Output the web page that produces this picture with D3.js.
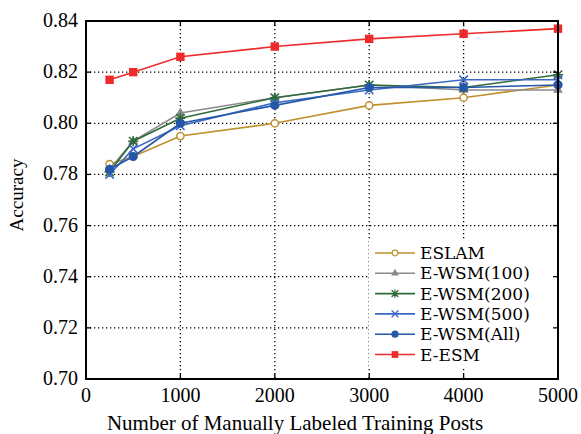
<!DOCTYPE html>
<html><head><meta charset="utf-8">
<script src="https://cdn.jsdelivr.net/npm/d3@7"></script>
<style>body{margin:0;background:#fff}svg{display:block}text{font-family:"Liberation Serif","Times New Roman",serif;fill:#000}</style>
</head><body>
<svg id="c" width="581" height="434"></svg>
<script>
const xs = [250, 500, 1000, 2000, 3000, 4000, 5000];
const eslam = [0.784, 0.787, 0.795, 0.800, 0.807, 0.810, 0.815];
const ewsm100 = [0.782, 0.793, 0.804, 0.810, 0.815, 0.813, 0.813];
const ewsm200 = [0.781, 0.793, 0.802, 0.810, 0.815, 0.814, 0.819];
const ewsm500 = [0.780, 0.790, 0.799, 0.808, 0.813, 0.817, 0.817];
const ewsmAll = [0.782, 0.787, 0.800, 0.807, 0.814, 0.814, 0.815];
const eesm = [0.817, 0.820, 0.826, 0.830, 0.833, 0.835, 0.837];
const seriesNames = ["ESLAM", "E-WSM(100)", "E-WSM(200)", "E-WSM(500)", "E-WSM(All)", "E-ESM"];
const xTicks = [0, 1000, 2000, 3000, 4000, 5000];
const yTicks = [0.70, 0.72, 0.74, 0.76, 0.78, 0.80, 0.82, 0.84];

const series = [
  {name: seriesNames[0], values: eslam, color: "#c0902f", marker: "ocircle"},
  {name: seriesNames[1], values: ewsm100, color: "#8a8a8a", marker: "triangle"},
  {name: seriesNames[2], values: ewsm200, color: "#2f6b3a", marker: "star"},
  {name: seriesNames[3], values: ewsm500, color: "#3a68c4", marker: "x"},
  {name: seriesNames[4], values: ewsmAll, color: "#2457a8", marker: "dot"},
  {name: seriesNames[5], values: eesm, color: "#ee2a2a", marker: "square"}
];

const svg = d3.select("#c");
const L = 86, R = 558, T = 21, B = 379;
const x = d3.scaleLinear().domain([0, 5000]).range([L, R]);
const y = d3.scaleLinear().domain([0.70, 0.84]).range([B, T]);

// grid
const grid = svg.append("g");
grid.selectAll(".gx").data(xTicks.slice(1, -1)).join("line")
  .attr("x1", d => x(d)).attr("x2", d => x(d)).attr("y1", T).attr("y2", B)
  .attr("stroke", "#000").attr("stroke-width", 1.3).attr("stroke-dasharray", "1.3,2.7");
grid.selectAll(".gy").data(yTicks.slice(1, -1)).join("line")
  .attr("y1", d => y(d)).attr("y2", d => y(d)).attr("x1", L).attr("x2", R)
  .attr("stroke", "#000").attr("stroke-width", 1.3).attr("stroke-dasharray", "1.3,2.7");

function drawMarker(g, type, cx, cy, color) {
  if (type === "ocircle") {
    g.append("circle").attr("cx", cx).attr("cy", cy).attr("r", 3.6)
      .attr("fill", "#fff").attr("stroke", color).attr("stroke-width", 1.5);
  } else if (type === "dot") {
    g.append("circle").attr("cx", cx).attr("cy", cy).attr("r", 4.5).attr("fill", color);
  } else if (type === "square") {
    g.append("rect").attr("x", cx - 4.2).attr("y", cy - 4.2).attr("width", 8.4).attr("height", 8.4).attr("fill", color);
  } else if (type === "triangle") {
    g.append("path").attr("d", d3.symbol(d3.symbolTriangle, 40)()).attr("transform", `translate(${cx},${cy})`).attr("fill", color);
  } else if (type === "x") {
    const s = 4.2;
    g.append("path").attr("d", `M${cx-s},${cy-s}L${cx+s},${cy+s}M${cx-s},${cy+s}L${cx+s},${cy-s}`)
      .attr("stroke", color).attr("stroke-width", 1.6);
  } else if (type === "star") {
    const s = 4.2;
    g.append("path").attr("d", `M${cx-s},${cy-s}L${cx+s},${cy+s}M${cx-s},${cy+s}L${cx+s},${cy-s}M${cx},${cy-s*1.2}L${cx},${cy+s*1.2}M${cx-s*1.2},${cy}L${cx+s*1.2},${cy}`)
      .attr("stroke", color).attr("stroke-width", 1.6);
  }
}

const line = d3.line().x((d, i) => x(xs[i])).y(d => y(d));
series.forEach(s => {
  const g = svg.append("g");
  g.append("path").attr("d", line(s.values)).attr("fill", "none").attr("stroke", s.color).attr("stroke-width", 1.6);
  s.values.forEach((v, i) => drawMarker(g, s.marker, x(xs[i]), y(v), s.color));
});

// legend
const lg = svg.append("g");
lg.append("rect").attr("x", 369).attr("y", 241).attr("width", R - 369).attr("height", 128).attr("fill", "#fff");
series.forEach((s, i) => {
  const yy = 253 + i * 20.3;
  lg.append("line").attr("x1", 375).attr("x2", 415).attr("y1", yy).attr("y2", yy).attr("stroke", s.color).attr("stroke-width", 1.6);
  const sub = lg.append("g").attr("transform", `translate(${395},${yy}) scale(0.8) translate(${-395},${-yy})`);
  drawMarker(sub, s.marker, 395, yy, s.color);
  lg.append("text").attr("x", 420).attr("y", yy + 6).style("font-family", "'DejaVu Serif',serif").style("font-size", "17px").text(s.name);
});

// frame & ticks
const ax = svg.append("g");
ax.append("rect").attr("x", L).attr("y", T).attr("width", R - L).attr("height", B - T)
  .attr("fill", "none").attr("stroke", "#000").attr("stroke-width", 2);
const tl = 5;
xTicks.slice(1, -1).forEach(d => {
  ax.append("line").attr("x1", x(d)).attr("x2", x(d)).attr("y1", B).attr("y2", B - tl).attr("stroke", "#000").attr("stroke-width", 1.3);
  ax.append("line").attr("x1", x(d)).attr("x2", x(d)).attr("y1", T).attr("y2", T + tl).attr("stroke", "#000").attr("stroke-width", 1.3);
});
yTicks.slice(1, -1).forEach(d => {
  ax.append("line").attr("y1", y(d)).attr("y2", y(d)).attr("x1", L).attr("x2", L + tl).attr("stroke", "#000").attr("stroke-width", 1.3);
  ax.append("line").attr("y1", y(d)).attr("y2", y(d)).attr("x1", R).attr("x2", R - tl).attr("stroke", "#000").attr("stroke-width", 1.3);
});
ax.selectAll(".xl").data(xTicks).join("text")
  .attr("x", d => x(d)).attr("y", 402).attr("text-anchor", "middle").attr("font-size", 20).text(d => d);
ax.selectAll(".yl").data(yTicks).join("text")
  .attr("x", 78).attr("y", d => y(d) + 6).attr("text-anchor", "end").attr("font-size", 20).text(d => d.toFixed(2));
ax.append("text").attr("x", 295).attr("y", 430).attr("text-anchor", "middle").attr("font-size", 21)
  .text("Number of Manually Labeled Training Posts");
ax.append("text").attr("transform", `translate(23,${195}) rotate(-90)`).attr("text-anchor", "middle").attr("font-size", 19).text("Accuracy");
</script>
</body></html>
